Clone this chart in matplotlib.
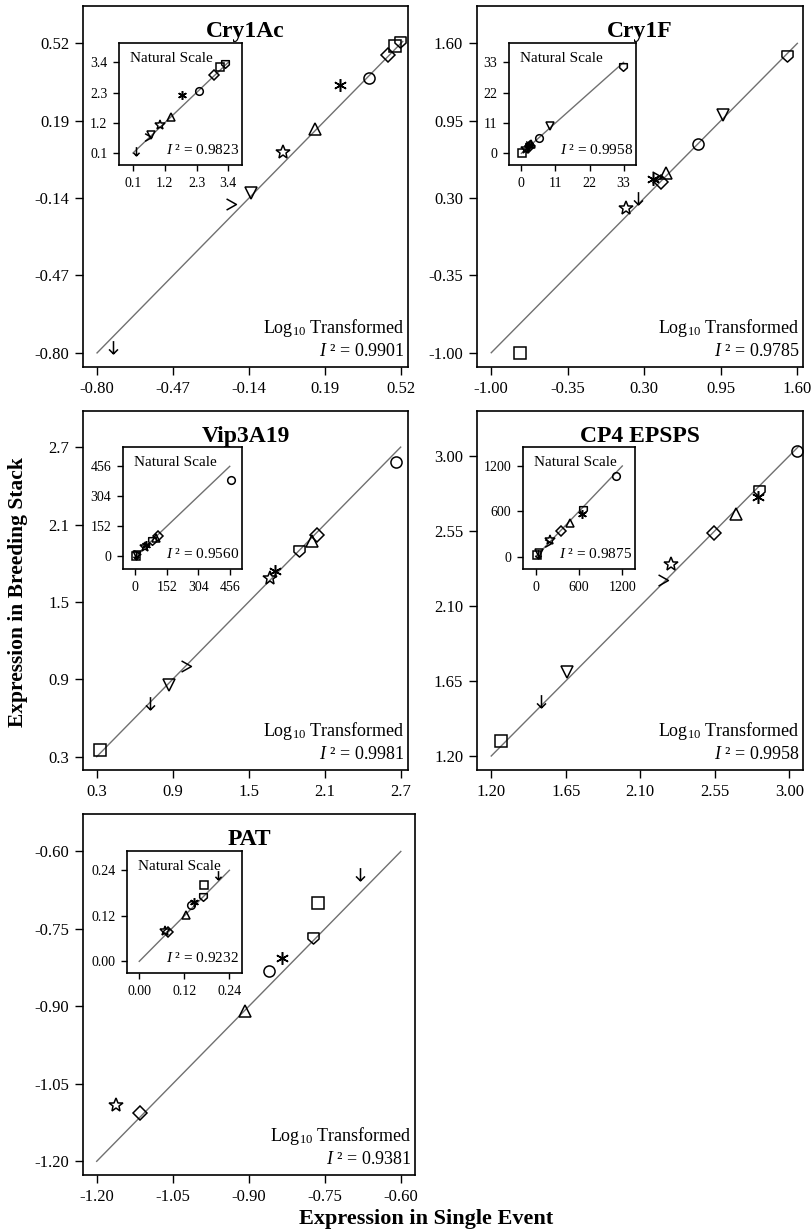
import numpy as np
import matplotlib.pyplot as plt
from matplotlib.path import Path

plt.rcParams['font.family'] = ['Liberation Serif', 'DejaVu Serif']
plt.rcParams['mathtext.fontset'] = 'custom'
plt.rcParams['mathtext.rm'] = 'Liberation Serif'
plt.rcParams['mathtext.it'] = 'Liberation Serif:italic'

# ---------------------------------------------------------------------------- #
# data (log10 scale, single event vs breeding stack)
cry1ac_x = [-0.73, -0.218, -0.131, 0.008, 0.147, 0.254, 0.380, 0.462, 0.492, 0.517]
cry1ac_y = [-0.775, -0.166, -0.120, 0.055, 0.153, 0.342, 0.373, 0.470, 0.509, 0.523]
cry1ac_sym = ['arrow', 'gt', 'tri_dn', 'star', 'tri_up', 'aster', 'circle', 'diamond', 'square', 'shield']
cry1ac_ticks = [-0.80, -0.47, -0.14, 0.19, 0.52]
cry1ac_labels = ['-0.80', '-0.47', '-0.14', '0.19', '0.52']
cry1ac_nat_ticks = [0.1, 1.2, 2.3, 3.4]
cry1ac_nat_labels = ['0.1', '1.2', '2.3', '3.4']
cry1ac_i2 = ['0.9901', '0.9823']

cry1f_x = [-0.754, 0.143, 0.25, 0.378, 0.41, 0.44, 0.485, 0.754, 0.972, 1.515]
cry1f_y = [-1.00, 0.213, 0.30, 0.457, 0.48, 0.437, 0.507, 0.754, 0.998, 1.494]
cry1f_sym = ['square', 'star', 'arrow', 'aster', 'gt', 'diamond', 'tri_up', 'circle', 'tri_dn', 'shield']
cry1f_ticks = [-1.00, -0.35, 0.30, 0.95, 1.60]
cry1f_labels = ['-1.00', '-0.35', '0.30', '0.95', '1.60']
cry1f_nat_ticks = [0, 11, 22, 33]
cry1f_nat_labels = ['0', '11', '22', '33']
cry1f_i2 = ['0.9785', '0.9958']

vip_x = [0.326, 0.721, 0.874, 1.003, 1.668, 1.71, 1.90, 1.997, 2.037, 2.663]
vip_y = [0.352, 0.714, 0.857, 1.004, 1.685, 1.742, 1.892, 1.975, 2.016, 2.586]
vip_sym = ['square', 'arrow', 'tri_dn', 'gt', 'star', 'aster', 'shield', 'tri_up', 'diamond', 'circle']
vip_ticks = [0.3, 0.9, 1.5, 2.1, 2.7]
vip_labels = ['0.3', '0.9', '1.5', '2.1', '2.7']
vip_nat_ticks = [0, 152, 304, 456]
vip_nat_labels = ['0', '152', '304', '456']
vip_i2 = ['0.9981', '0.9560']

cp4_x = [1.258, 1.502, 1.655, 2.24, 2.284, 2.547, 2.676, 2.819, 2.809, 3.048]
cp4_y = [1.29, 1.529, 1.702, 2.256, 2.352, 2.536, 2.651, 2.79, 2.755, 3.028]
cp4_sym = ['square', 'arrow', 'tri_dn', 'gt', 'star', 'diamond', 'tri_up', 'shield', 'aster', 'circle']
cp4_ticks = [1.20, 1.65, 2.10, 2.55, 3.00]
cp4_labels = ['1.20', '1.65', '2.10', '2.55', '3.00']
cp4_nat_ticks = [0, 600, 1200]
cp4_nat_labels = ['0', '600', '1200']
cp4_i2 = ['0.9958', '0.9875']

pat_x = [-1.161, -1.115, -0.908, -0.861, -0.835, -0.773, -0.763, -0.680]
pat_y = [-1.090, -1.107, -0.909, -0.832, -0.806, -0.768, -0.699, -0.644]
pat_sym = ['star', 'diamond', 'tri_up', 'circle', 'aster', 'shield', 'square', 'arrow']
pat_ticks = [-1.20, -1.05, -0.90, -0.75, -0.60]
pat_labels = ['-1.20', '-1.05', '-0.90', '-0.75', '-0.60']
pat_nat_ticks = [0.00, 0.12, 0.24]
pat_nat_labels = ['0.00', '0.12', '0.24']
pat_i2 = ['0.9381', '0.9232']

# ---------------------------------------------------------------------------- #
# marker shapes
ARROW = Path([(0, 0.5), (0, -0.5), (-0.35, -0.15), (0, -0.5), (0.35, -0.15)],
             [Path.MOVETO, Path.LINETO, Path.MOVETO, Path.LINETO, Path.LINETO])
GT = Path([(-0.4, 0.45), (0.4, 0), (-0.4, -0.45)],
          [Path.MOVETO, Path.LINETO, Path.LINETO])
SHIELD = Path([(-0.5, 0.5), (0.5, 0.5), (0.5, -0.05), (0, -0.5), (-0.5, -0.05), (-0.5, 0.5)],
              [Path.MOVETO] + [Path.LINETO] * 4 + [Path.CLOSEPOLY])
MARKERS = {
    'circle': ('o', 1.0), 'square': ('s', 1.0), 'diamond': ('D', 0.85),
    'tri_up': ('^', 1.1), 'tri_dn': ('v', 1.1), 'star': ('*', 1.35),
    'aster': ((6, 2, 0), 1.15), 'arrow': (ARROW, 1.15), 'gt': (GT, 1.0),
    'shield': (SHIELD, 1.0),
}

W, H = 812, 1232


def px_rect(l, t, r, b):
    return [l / W, 1 - b / H, (r - l) / W, (b - t) / H]


def draw_points(ax, xs, ys, syms, ms):
    for x, y, s in zip(xs, ys, syms):
        m, k = MARKERS[s]
        ax.plot(x, y, marker=m, ls='none', ms=ms * k, mfc='none', mec='k', mew=1.1)


def style_axes(ax, ticks, labels, size, length, pad):
    ax.set_xticks(ticks)
    ax.set_xticklabels(labels)
    ax.set_yticks(ticks)
    ax.set_yticklabels(labels)
    ax.tick_params(direction='out', length=length, width=1.0, labelsize=size, pad=pad,
                   top=False, right=False)
    for sp in ax.spines.values():
        sp.set_linewidth(1.2)


def draw_panel(fig, name, xs, ys, syms, ticks, labels, nat_ticks, nat_labels, i2, lay):
    main_px, main_xlim, main_ylim, ins_px, ins_xlim, ins_ylim = lay
    ax = fig.add_axes(px_rect(*main_px))
    hi = max(ticks[-1], max(xs) + 0.01)
    ax.plot([ticks[0], hi], [ticks[0], hi], color='#707070', lw=1.0)
    draw_points(ax, xs, ys, syms, 8)
    style_axes(ax, ticks, labels, 12, 6, 4)
    ax.set_xlim(main_xlim)
    ax.set_ylim(main_ylim)
    ax.text(0.5, 0.93, name, transform=ax.transAxes, ha='center', va='center',
            fontsize=17, fontweight='bold')
    ax.text(0.99, 0.108, r'Log$_{10}$ Transformed', transform=ax.transAxes,
            ha='right', va='center', fontsize=13)
    ax.text(0.99, 0.042, r'$I$ ² = ' + i2[0], transform=ax.transAxes,
            ha='right', va='center', fontsize=13)

    # natural scale inset
    ia = fig.add_axes(px_rect(*ins_px))
    nx = 10 ** np.array(xs)
    ny = 10 ** np.array(ys)
    ia.plot([nat_ticks[0], nat_ticks[-1]], [nat_ticks[0], nat_ticks[-1]], color='#707070', lw=1.0)
    draw_points(ia, nx, ny, syms, 5.5)
    style_axes(ia, nat_ticks, nat_labels, 10, 4.3, 4)
    ia.set_xlim(ins_xlim)
    ia.set_ylim(ins_ylim)
    wpx = ins_px[2] - ins_px[0]
    ia.text(11 / wpx, 0.87, 'Natural Scale', transform=ia.transAxes,
            ha='left', va='center', fontsize=11)
    ia.text(0.975, 0.12, r'$I$ ² = ' + i2[1], transform=ia.transAxes,
            ha='right', va='center', fontsize=11)


if __name__ == '__main__':
    fig = plt.figure(figsize=(W / 100, H / 100), dpi=100)

    # layout: main rect px, main xlim, main ylim, inset rect px, inset xlim, inset ylim
    layouts = {
        'Cry1Ac': ((83, 6, 408, 367), (-0.861, 0.55), (-0.86, 0.678),
                   (119, 43, 242, 165), (-0.385, 3.873), (-0.337, 4.103)),
        'Cry1F': ((477, 6, 803, 367), (-1.121, 1.648), (-1.12, 1.914),
                  (509, 43, 636, 165), (-4.0, 37.0), (-4.23, 40.0)),
        'Vip3A19': ((83, 411, 408, 770), (0.192, 2.758), (0.197, 2.98),
                    (123, 447, 242, 569), (-59.2, 515.2), (-64.2, 554.0)),
        'CP4 EPSPS': ((477, 411, 803, 770), (1.114, 3.083), (1.116, 3.269),
                      (523, 447, 635, 569), (-176, 1376), (-163, 1451)),
        'PAT': ((83, 814, 415, 1175), (-1.227, -0.572), (-1.2265, -0.5275),
                (127, 851, 242, 973), (-0.0326, 0.2735), (-0.0307, 0.2908)),
    }

    draw_panel(fig, 'Cry1Ac', cry1ac_x, cry1ac_y, cry1ac_sym, cry1ac_ticks, cry1ac_labels,
               cry1ac_nat_ticks, cry1ac_nat_labels, cry1ac_i2, layouts['Cry1Ac'])
    draw_panel(fig, 'Cry1F', cry1f_x, cry1f_y, cry1f_sym, cry1f_ticks, cry1f_labels,
               cry1f_nat_ticks, cry1f_nat_labels, cry1f_i2, layouts['Cry1F'])
    draw_panel(fig, 'Vip3A19', vip_x, vip_y, vip_sym, vip_ticks, vip_labels,
               vip_nat_ticks, vip_nat_labels, vip_i2, layouts['Vip3A19'])
    draw_panel(fig, 'CP4 EPSPS', cp4_x, cp4_y, cp4_sym, cp4_ticks, cp4_labels,
               cp4_nat_ticks, cp4_nat_labels, cp4_i2, layouts['CP4 EPSPS'])
    draw_panel(fig, 'PAT', pat_x, pat_y, pat_sym, pat_ticks, pat_labels,
               pat_nat_ticks, pat_nat_labels, pat_i2, layouts['PAT'])

    fig.text(18 / W, 1 - 592 / H, 'Expression in Breeding Stack', rotation=90,
             ha='center', va='center', fontsize=15.5, fontweight='bold')
    fig.text(426 / W, 1 - 1219 / H, 'Expression in Single Event',
             ha='center', va='center', fontsize=16, fontweight='bold')

    fig.savefig('out.png', dpi=100)
